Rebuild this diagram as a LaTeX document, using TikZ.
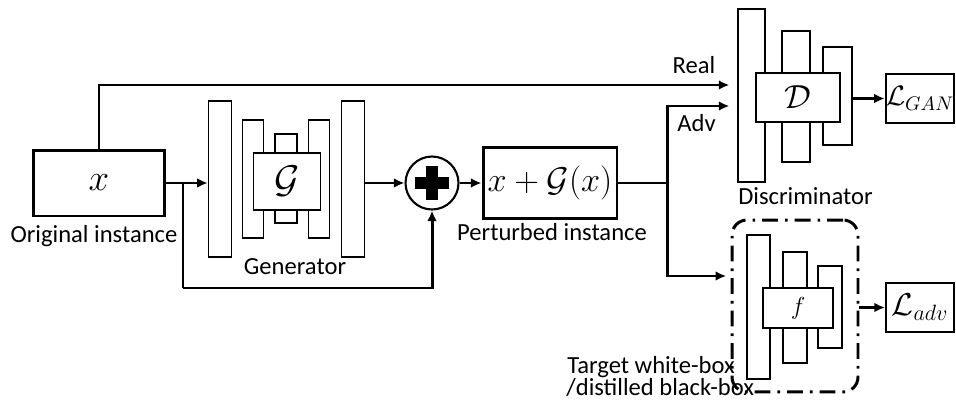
\RequirePackage{fix-cm}
\documentclass[tikz,border=0pt]{standalone}
\usepackage{fontspec}
\setmainfont{Carlito}
\usetikzlibrary{arrows.meta}
\begin{document}
\begin{tikzpicture}[x=0.02cm,y=-0.02cm,
  bar/.style={draw,fill=white,line width=0.9pt,inner sep=0pt},
  core/.style={draw,fill=white,line width=0.9pt,inner sep=0pt},
  bigbox/.style={draw,line width=1.7pt,inner sep=0pt},
  lossbox/.style={draw,line width=1.2pt,inner sep=0pt},
  conn/.style={line width=1.7pt},
  arr/.style={conn,-{Latex[length=6pt,width=5.5pt]}},
  lbl/.style={font=\fontsize{14}{16}\selectfont,inner sep=0pt,anchor=base},
  tbox/.style={draw,line width=1.7pt,rounded corners=0.3cm,dash pattern=on 9pt off 4pt on 1.5pt off 4pt}]
\useasboundingbox (0,0) rectangle (956,402);

% input
\node[bigbox,minimum width=2.64cm,minimum height=1.32cm] (x) at (99,183) {\fontsize{21}{23}\selectfont$x$};
\node[lbl] (lorig) at (94,242) {Original instance};

% generator
\node[bar,minimum width=0.46cm,minimum height=3.12cm] (g1) at (220,179) {};
\node[bar,minimum width=0.42cm,minimum height=2.36cm] (g2) at (253,179) {};
\node[bar,minimum width=0.44cm,minimum height=1.78cm] (g3) at (286,178.5) {};
\node[bar,minimum width=0.42cm,minimum height=2.36cm] (g4) at (319,179) {};
\node[bar,minimum width=0.46cm,minimum height=3.12cm] (g5) at (353,179) {};
\node[core,minimum width=1.34cm,minimum height=1.14cm] (gc) at (287,181.5) {\fontsize{22}{24}\selectfont$\mathcal{G}$};
\node[lbl] (lgen) at (295,274) {Generator};

% adder
\node[draw,circle,line width=1.2pt,minimum size=1.06cm,inner sep=0pt] (pl) at (432,183) {};
\fill ([xshift=-0.34cm,yshift=-0.12cm]pl.center) rectangle ([xshift=0.34cm,yshift=0.12cm]pl.center);
\fill ([xshift=-0.12cm,yshift=-0.34cm]pl.center) rectangle ([xshift=0.12cm,yshift=0.34cm]pl.center);

% perturbed
\node[bigbox,minimum width=2.68cm,minimum height=1.42cm] (xg) at (550,183) {\fontsize{19.5}{22}\selectfont$x+\mathcal{G}(x)$};
\node[lbl] (lpert) at (552,240) {Perturbed instance};

% discriminator
\node[bar,minimum width=0.54cm,minimum height=3.46cm] (d1) at (751.5,95.5) {};
\node[bar,minimum width=0.56cm,minimum height=2.62cm] (d2) at (796,96.5) {};
\node[bar,minimum width=0.58cm,minimum height=1.96cm] (d3) at (837.5,96) {};
\node[core,minimum width=1.68cm,minimum height=0.98cm] (dc) at (798,97.5) {\fontsize{19}{21}\selectfont$\mathcal{D}$};
\node[lbl] (ldisc) at (805.5,204) {Discriminator};
\node[lossbox,minimum width=1.36cm,minimum height=0.98cm] (lgan) at (920,98.5) {\fontsize{16}{18}\selectfont$\mathcal{L}_{GAN}$};

% target model
\node[tbox,minimum width=2.52cm,minimum height=3.44cm] (tb) at (795,306) {};
\node[bar,minimum width=0.46cm,minimum height=2.88cm] (f1) at (758.5,307) {};
\node[bar,minimum width=0.48cm,minimum height=2.22cm] (f2) at (795,307.5) {};
\node[bar,minimum width=0.48cm,minimum height=1.64cm] (f3) at (830,307) {};
\node[core,minimum width=1.4cm,minimum height=0.8cm] (fc) at (798,308) {\fontsize{14}{16}\selectfont$f$};
\node[lossbox,minimum width=1.36cm,minimum height=0.98cm] (ladv) at (920,307.5) {\fontsize{18}{20}\selectfont$\mathcal{L}_{adv}$};
\node[lbl,anchor=base west] (lt1) at (567,373) {Target white-box};
\node[lbl,anchor=base west] (lt2) at (566,395) {/distilled black-box};

% helper coordinates
\coordinate (realy) at (0,85);
\coordinate (advy) at (0,106);
\coordinate (lowy) at (0,276);
\coordinate (br) at (183,183);
\coordinate (lowturn) at (183,288);
\coordinate (sp) at (667,183);

% connectors
\draw[arr] (x.east) -- (x.east -| g1.west);
\draw[conn] (br) -- (lowturn);
\draw[arr] (lowturn) -| (pl.south);
\draw[arr,shorten >=4.5pt] (x.north) |- (realy -| d1.west);
\draw[arr] (g5.east |- pl.west) -- (pl.west);
\draw[arr] (pl.east) -- (xg.west);
\draw[conn] (xg.east) -- (sp);
\draw[arr,shorten >=4.5pt] (sp) |- (advy -| d1.west);
\draw[arr,shorten >=2.5pt] (sp) |- (lowy -| tb.west);
\draw[arr] (d3.east |- lgan.west) -- (lgan.west);
\draw[arr] (tb.east |- ladv.west) -- (ladv.west);

\node[lbl] (lreal) at (694,73) {Real};
\node[lbl] (ladvl) at (696.5,132) {Adv};
\end{tikzpicture}
\end{document}
